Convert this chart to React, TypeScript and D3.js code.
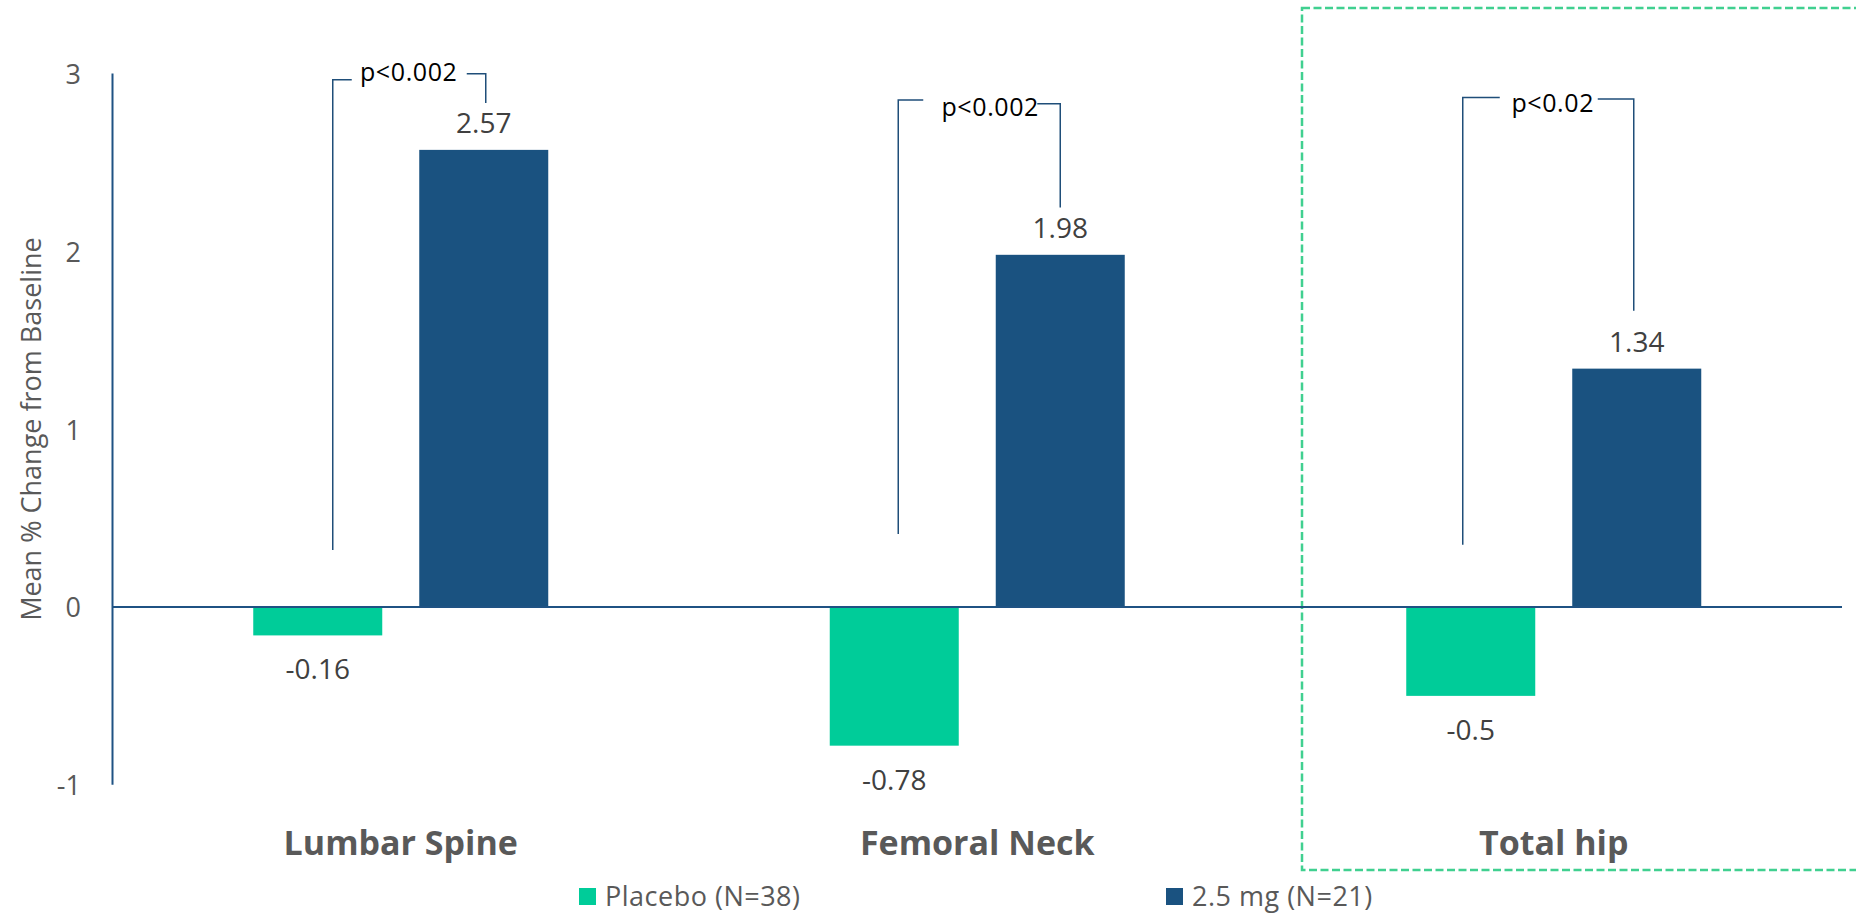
import React from "react";
import * as d3 from "d3";

const categories = ["Lumbar Spine", "Femoral Neck", "Total hip"];
const placeboValues = [-0.16, -0.78, -0.5];
const doseValues = [2.57, 1.98, 1.34];
const valueLabels = { placebo: ["-0.16", "-0.78", "-0.5"], dose: ["2.57", "1.98", "1.34"] };
const yTicks = [-1, 0, 1, 2, 3];
const seriesNames = ["Placebo (N=38)", "2.5 mg (N=21)"];
const pLabels = ["p<0.002", "p<0.002", "p<0.02"];
// bracket heights in data units: left-bottom, left-top, right-top, right-bottom, label
const bracketLeftBottom = [0.32, 0.41, 0.35];
const bracketLeftTop = [2.964, 2.85, 2.865];
const bracketRightTop = [2.998, 2.83, 2.856];
const bracketRightBottom = [2.833, 2.246, 1.665];
const bracketLabelY = [3.011, 2.818, 2.842];

// annotation layout (offsets in px from category centre)
const bracketGeom = [
  { l: -68, le: -49, lc: 8, rs: 66, r: 85 },
  { l: -79, le: -54, lc: 13, rs: 60, r: 83 },
  { l: -91, le: -54, lc: -1, rs: 44, r: 80 },
];

const W = 1856;
const H = 915;
const GREEN = "#00CC99";
const BLUE = "#1A5280";
const AXIS = "#1F5283";
const FONT = "'Open Sans', 'Noto Sans', sans-serif";

export default function App() {
  const left = 112.5;
  const right = 1842;
  const y = d3.scaleLinear().domain([-1, 3]).range([784.8, 73.4]);
  const x = d3.scaleBand().domain(categories).range([left, right]).paddingInner(0).paddingOuter(0);
  const barW = 129;
  const gap = 37;
  const cx = (c: string) => (x(c) as number) + x.bandwidth() / 2;
  const placeboX = (c: string) => cx(c) - gap / 2 - barW;
  const doseX = (c: string) => cx(c) + gap / 2;

  return (
    <div style={{ position: "absolute", left: 0, top: 0, width: W, height: H, background: "#fff" }}>
      <svg width={W} height={H} style={{ display: "block", fontFamily: FONT }}>
        <rect x={0} y={0} width={W} height={H} fill="#ffffff" />
        {/* highlight box */}
        <rect x={1302} y={8} width={600} height={862} fill="none" stroke="#40D090" strokeWidth={2.5} strokeDasharray="8 3.5" />

        {/* y title */}
        <text
          transform={`translate(30,${(y(-1) + y(3)) / 2}) rotate(-90)`}
          textAnchor="middle"
          dominantBaseline="central"
          fontSize={27}
          fill="#595959"
        >
          Mean % Change from Baseline
        </text>

        {/* y ticks */}
        {yTicks.map((t) => (
          <text key={t} x={81} y={y(t)} textAnchor="end" dominantBaseline="central" fontSize={27} fill="#595959">
            {t}
          </text>
        ))}

        {/* bars */}
        {categories.map((c, i) => (
          <g key={c}>
            <rect
              x={placeboX(c)}
              y={y(Math.max(0, placeboValues[i]))}
              width={barW}
              height={Math.abs(y(placeboValues[i]) - y(0))}
              fill={GREEN}
            />
            <rect
              x={doseX(c)}
              y={y(Math.max(0, doseValues[i]))}
              width={barW}
              height={Math.abs(y(doseValues[i]) - y(0))}
              fill={BLUE}
            />
            <text
              x={placeboX(c) + barW / 2}
              y={y(placeboValues[i]) + 33}
              textAnchor="middle"
              dominantBaseline="central"
              fontSize={28}
              fill="#404040"
            >
              {valueLabels.placebo[i]}
            </text>
            <text
              x={doseX(c) + barW / 2}
              y={y(doseValues[i]) - 28}
              textAnchor="middle"
              dominantBaseline="central"
              fontSize={28}
              fill="#404040"
            >
              {valueLabels.dose[i]}
            </text>
            <text
              x={cx(c)}
              y={842}
              textAnchor="middle"
              dominantBaseline="central"
              fontSize={34}
              fontWeight={700}
              fill="#595959"
            >
              {c}
            </text>
          </g>
        ))}

        {/* axes */}
        <line x1={left} x2={left} y1={y(3)} y2={y(-1)} stroke={AXIS} strokeWidth={2} />
        <line x1={left} x2={right} y1={y(0)} y2={y(0)} stroke={AXIS} strokeWidth={2} />

        {/* brackets */}
        {categories.map((c, i) => {
          const g = bracketGeom[i];
          const c0 = cx(c);
          const lt = y(bracketLeftTop[i]);
          const rt = y(bracketRightTop[i]);
          return (
            <g key={"b" + c} fill="none" stroke="#1F4E79" strokeWidth={1.5}>
              <path d={`M${c0 + g.l},${y(bracketLeftBottom[i])}V${lt}H${c0 + g.le}`} />
              <path d={`M${c0 + g.rs},${rt}H${c0 + g.r}V${y(bracketRightBottom[i])}`} />
              <text
                x={c0 + g.lc}
                y={y(bracketLabelY[i])}
                textAnchor="middle"
                dominantBaseline="central"
                fontSize={25}
                letterSpacing={0.6}
                fill="#000"
                stroke="none"
              >
                {pLabels[i]}
              </text>
            </g>
          );
        })}

        {/* legend */}
        {seriesNames.map((s, i) => {
          const lx = i === 0 ? 579 : 1166;
          return (
            <g key={s}>
              <rect x={lx} y={888} width={17} height={17} fill={i === 0 ? GREEN : BLUE} />
              <text x={lx + 26} y={895} dominantBaseline="central" fontSize={27} letterSpacing={0.5} fill="#595959">
                {s}
              </text>
            </g>
          );
        })}
      </svg>
    </div>
  );
}
